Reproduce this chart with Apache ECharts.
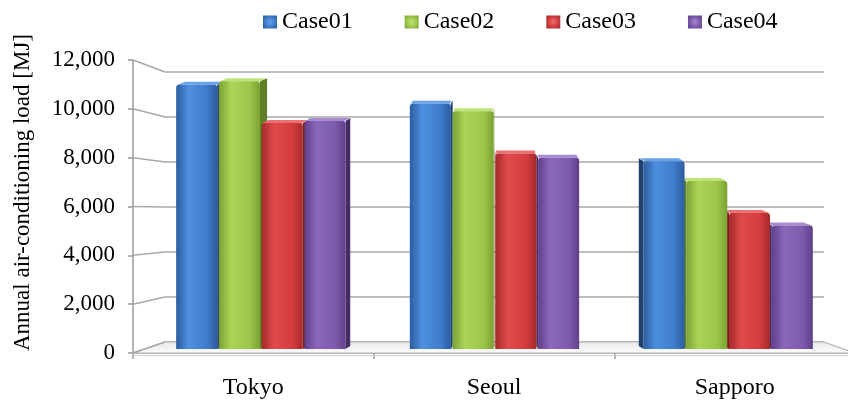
<!DOCTYPE html>
<html>
<head>
<meta charset="utf-8">
<script src="https://cdn.jsdelivr.net/npm/echarts@6/dist/echarts.min.js"></script>
<style>
  html, body { margin: 0; padding: 0; background: #fff; }
  #chart { width: 848px; height: 407px; }
</style>
</head>
<body>
<div id="chart"></div>
<script>
// Annual air-conditioning load per city, four cases [MJ]
const cities = ['Tokyo', 'Seoul', 'Sapporo'];
const caseNames = ['Case01', 'Case02', 'Case03', 'Case04'];
const case01 = [11130, 10330, 7910];
const case02 = [11270, 10010, 7070];
const case03 = [9520, 8230, 5730];
const case04 = [9600, 8050, 5200];
const yMin = 0;
const yMax = 12000;
const yStep = 2000;

const FONT = "'Liberation Serif', 'Times New Roman', serif";
const AXIS_GRAY = '#9a9a9a';

// shading for each case: base, lit centre, dark edge, side face, top face
const palettes = [
  { base: '#3f7ccc', light: '#4d8fdf', dark: '#2c5c9f', side: '#1f416f', top: '#6aa2e6' },
  { base: '#9cc649', light: '#abd556', dark: '#7aa234', side: '#5e7f24', top: '#c0e27a' },
  { base: '#d23c3c', light: '#e04b4b', dark: '#a42a2a', side: '#7c1c1c', top: '#ec7070' },
  { base: '#7e5aad', light: '#8c68bb', dark: '#5f4089', side: '#452c66', top: '#a68bcd' }
];
const seriesValues = [case01, case02, case03, case04];

// pseudo-3D column: front face, top face and the side facing the view centre
function makeRenderItem(idx, pal) {
  return function (params, api) {
    const cat = api.value(0);
    const val = api.value(1);
    const base = api.coord([cat, 0]);
    const top = api.coord([cat, val]);
    const band = api.size([1, 0])[0];
    const pitch = band * 0.183;
    const bw = band * 0.1756;
    const cx = base[0] + (idx - 1.5) * pitch;
    const x0 = cx - bw / 2;
    const x1 = cx + bw / 2;
    const cs = params.coordSys;
    const mid = cs.x + cs.width / 2;
    const dx = (mid - cx) * 0.028;
    const dy = -3;
    const z = Math.round(1000 - Math.abs(mid - cx)) * 3;
    const yT = top[1];
    const yB = base[1];
    const sx = dx >= 0 ? x1 : x0;
    const children = [
      {
        type: 'polygon', z2: z,
        shape: { points: [[sx, yT], [sx + dx, yT + dy], [sx + dx, yB + dy], [sx, yB]] },
        style: { fill: pal.side }
      },
      {
        type: 'polygon', z2: z + 1,
        shape: { points: [[x0 + 1, yT], [x1 - 1, yT], [x1 + dx - 1, yT + dy], [x0 + dx + 1, yT + dy]] },
        style: { fill: pal.top }
      },
      {
        type: 'rect', z2: z + 2,
        shape: { x: x0, y: yT, width: bw, height: yB - yT, r: [3, 3, 0, 0] },
        style: {
          fill: new echarts.graphic.LinearGradient(0, 0, 1, 0, [
            { offset: 0, color: pal.dark },
            { offset: 0.3, color: pal.light },
            { offset: 0.75, color: pal.base },
            { offset: 1, color: pal.dark }
          ])
        }
      }
    ];
    return { type: 'group', children: children };
  };
}

const chart = echarts.init(document.getElementById('chart'), null, { renderer: 'canvas' });

const series = caseNames.map(function (name, i) {
  return {
    name: name,
    type: 'custom',
    xAxisIndex: 2,
    yAxisIndex: 2,
    itemStyle: { color: palettes[i].base },
    renderItem: makeRenderItem(i, palettes[i]),
    encode: { x: 0, y: 1 },
    data: seriesValues[i].map(function (v, c) { return [c, v]; })
  };
});

// bevelled legend keys
const legendData = caseNames.map(function (name, i) {
  return {
    name: name,
    itemStyle: {
      color: new echarts.graphic.RadialGradient(0.5, 0.5, 0.7, [
        { offset: 0, color: palettes[i].top },
        { offset: 0.55, color: palettes[i].base },
        { offset: 1, color: palettes[i].dark }
      ])
    }
  };
});

chart.setOption({
  backgroundColor: '#ffffff',
  animation: false,
  legend: {
    data: legendData,
    left: 258,
    top: 5,
    icon: 'rect',
    itemWidth: 14,
    itemHeight: 13,
    itemGap: 52,
    textStyle: { fontFamily: FONT, fontSize: 24, color: '#000' }
  },
  grid: [
    { left: 133, right: -7, top: 60, bottom: 54, outerBoundsMode: 'none' },   // front axes
    { left: 165, right: 24, top: 72, bottom: 65, outerBoundsMode: 'none' },   // back wall
    { left: 144, right: 3, top: 64, bottom: 58, outerBoundsMode: 'none' }     // column plane
  ],
  xAxis: [
    {
      gridIndex: 0, type: 'category', data: cities,
      axisLine: { lineStyle: { color: AXIS_GRAY, width: 1.5 } },
      axisTick: { show: true, length: 6, lineStyle: { color: AXIS_GRAY, width: 1.5 } },
      axisLabel: { fontFamily: FONT, fontSize: 24, color: '#000', margin: 23 },
      splitLine: { show: false }
    },
    { gridIndex: 1, type: 'value', min: 0, max: 1, show: false },
    { gridIndex: 2, type: 'category', data: cities, show: false }
  ],
  yAxis: [
    {
      gridIndex: 0, type: 'value', min: yMin, max: yMax, interval: yStep,
      name: 'Annual air-conditioning load [MJ]',
      nameLocation: 'middle',
      nameGap: 99,
      nameTextStyle: { fontFamily: FONT, fontSize: 23, color: '#000', padding: [0, 0, 0, 28] },
      axisLine: { show: true, lineStyle: { color: AXIS_GRAY, width: 1.5 } },
      axisTick: { show: true, length: 5, lineStyle: { color: AXIS_GRAY, width: 1.5 } },
      axisLabel: {
        fontFamily: FONT, fontSize: 23, color: '#000', margin: 18,
        formatter: function (v) { return v.toLocaleString('en-US'); }
      },
      splitLine: { show: false }
    },
    {
      gridIndex: 1, type: 'value', min: yMin, max: yMax, interval: yStep,
      axisLine: { show: false }, axisTick: { show: false }, axisLabel: { show: false },
      splitLine: { show: true, lineStyle: { color: '#a8a8a8', width: 1.5 } }
    },
    { gridIndex: 2, type: 'value', min: yMin, max: yMax, show: false }
  ],
  series: series
});

// floor plate and the slanted lines joining the front axis to the back wall
(function addFrame() {
  const f0 = chart.convertToPixel({ gridIndex: 0 }, [0, yMin]);
  const f1 = chart.convertToPixel({ gridIndex: 0 }, [1, yMin]);
  const band = f1[0] - f0[0];
  const frontL = f0[0] - band / 2;
  const frontR = f0[0] + band * (cities.length - 0.5);
  const backL = chart.convertToPixel({ gridIndex: 1 }, [0, yMin]);
  const backR = chart.convertToPixel({ gridIndex: 1 }, [1, yMin]);
  const yF = f0[1];
  const yB = backL[1];

  const elements = [
    {
      type: 'polygon', z: 1, silent: true,
      shape: { points: [[frontL, yF], [frontR, yF], [backR[0], yB], [backL[0], yB]] },
      style: {
        fill: new echarts.graphic.LinearGradient(0, 0, 0, 1, [
          { offset: 0, color: '#e8e8e8' },
          { offset: 1, color: '#fdfdfd' }
        ]),
        stroke: '#b4b4b4', lineWidth: 1.2
      }
    },
    {
      type: 'line', z: 1, silent: true,
      shape: { x1: frontL, y1: yF + 2.5, x2: frontR, y2: yF + 2.5 },
      style: { stroke: '#d0d0d0', lineWidth: 1 }
    }
  ];
  for (let v = yMin; v <= yMax; v += yStep) {
    const pf = chart.convertToPixel({ gridIndex: 0 }, [0, v]);
    const pb = chart.convertToPixel({ gridIndex: 1 }, [0, v]);
    elements.push({
      type: 'line', z: 1, silent: true,
      shape: { x1: frontL, y1: pf[1], x2: pb[0], y2: pb[1] },
      style: { stroke: '#a8a8a8', lineWidth: 1.5 }
    });
  }
  chart.setOption({ graphic: { elements: elements } });
})();
</script>
</body>
</html>
